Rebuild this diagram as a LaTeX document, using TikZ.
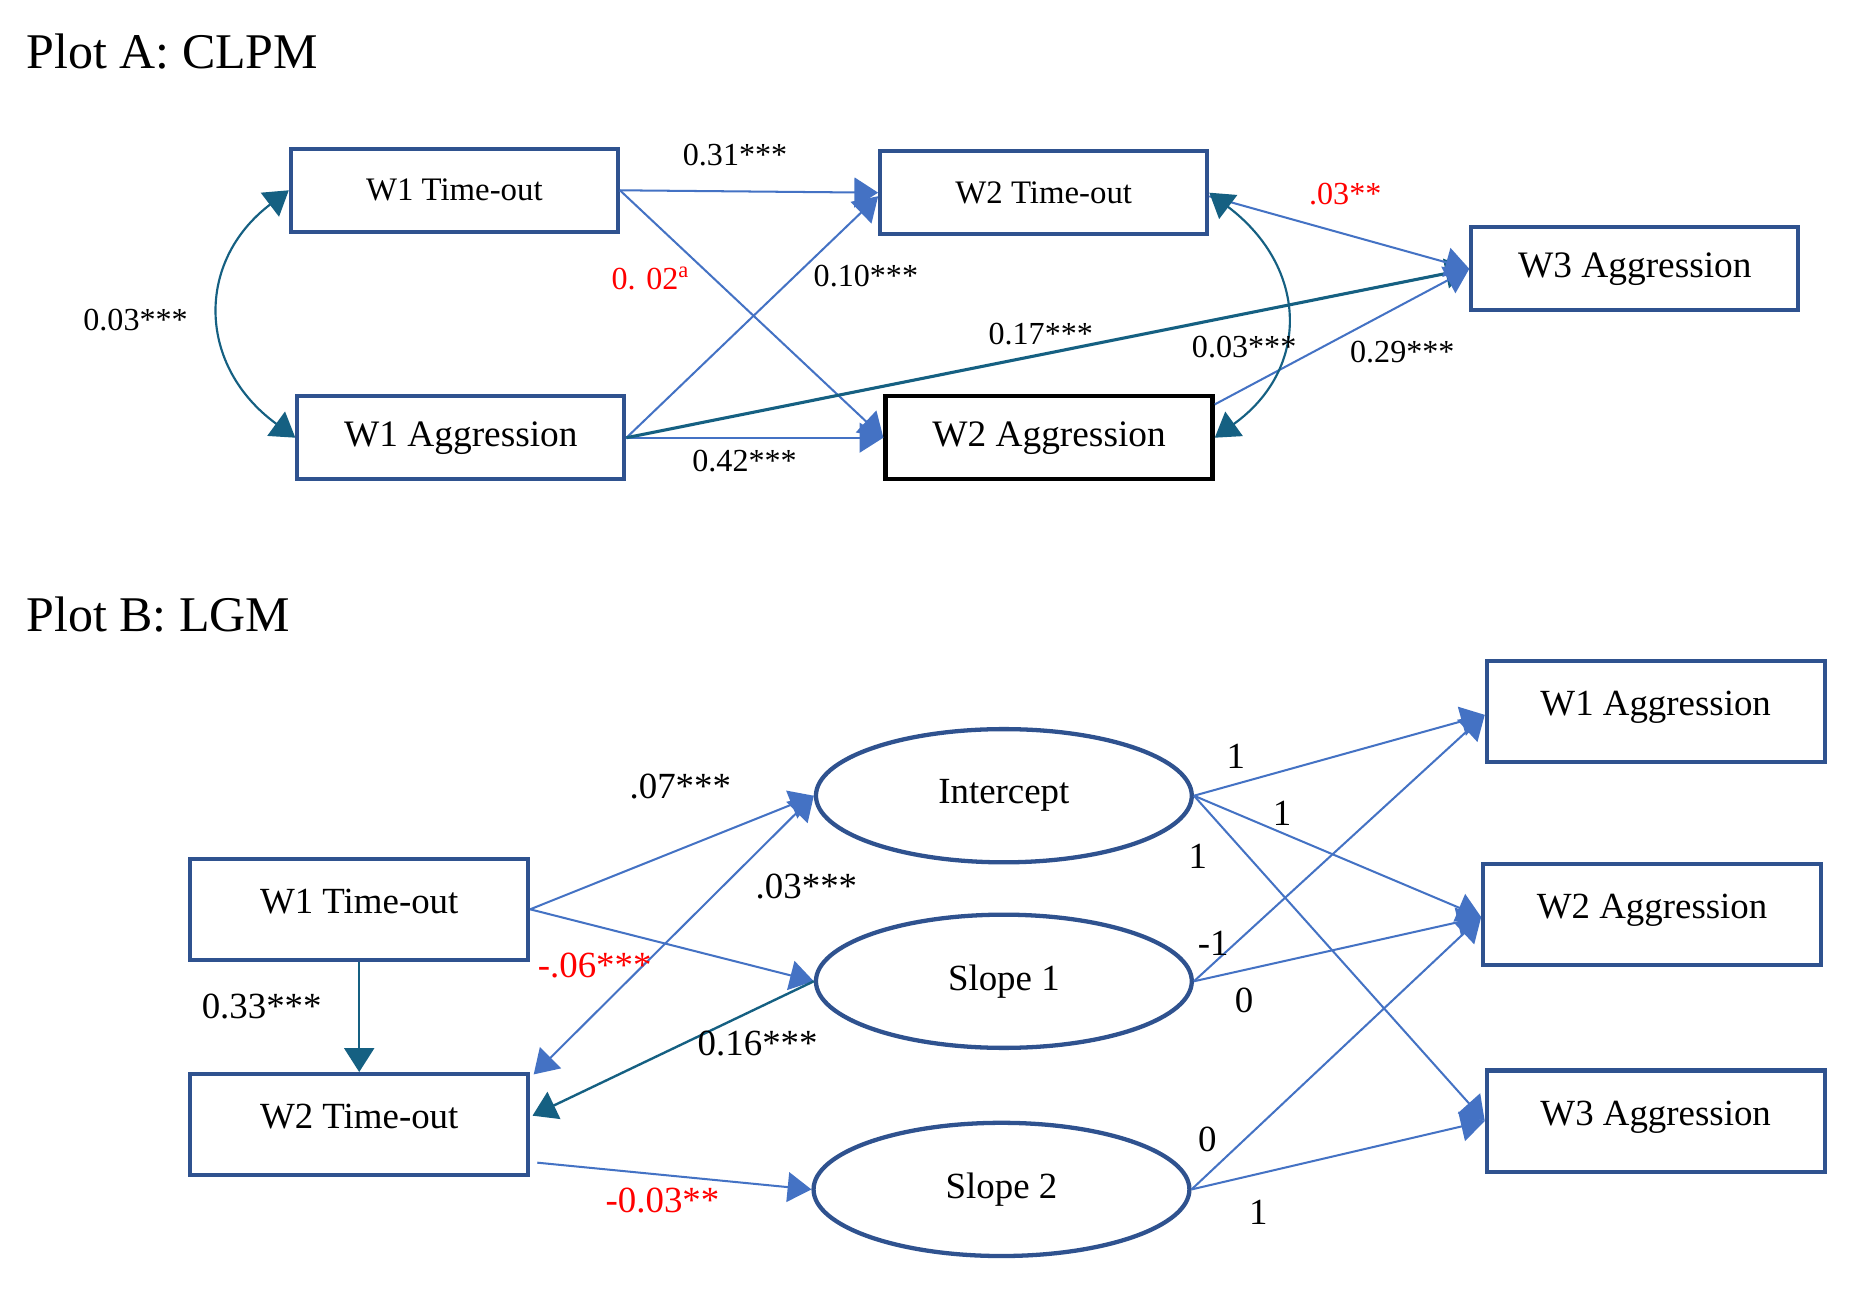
\documentclass[tikz,border=0pt]{standalone}
\usepackage{fontspec}
\setmainfont{Liberation Serif}
\usetikzlibrary{arrows.meta,shapes.geometric}
\definecolor{boxblue}{HTML}{2F528F}
\definecolor{arrblue}{HTML}{4472C4}
\definecolor{darkteal}{HTML}{156082}
\definecolor{lblred}{HTML}{FF0000}
\tikzset{
  tip/.tip={Triangle[length=10pt,width=12.5pt]},
  fTitle/.style={font=\fontsize{21}{24}\selectfont},
  fAsmall/.style={font=\fontsize{13.8}{16}\selectfont},
  fAbig/.style={font=\fontsize{15.7}{18}\selectfont},
  fAlbl/.style={font=\fontsize{13.5}{16}\selectfont, inner sep=0pt},
  fB/.style={font=\fontsize{15.5}{18}\selectfont},
  fBlbl/.style={font=\fontsize{15.5}{18}\selectfont, inner sep=0pt},
  boxA/.style={draw=boxblue, line width=1.7pt, minimum width=137.5pt, minimum height=35pt, inner sep=0pt},
  boxAblack/.style={boxA, draw=black, line width=1.8pt},
  boxB/.style={draw=boxblue, line width=1.7pt, minimum width=142pt, inner sep=0pt, text height=23pt, text depth=19.5pt, fB},
  ellB/.style={ellipse, draw=boxblue, line width=1.8pt, minimum width=158pt, minimum height=56pt, inner sep=0pt, fB},
  blarr/.style={draw=arrblue, line width=0.85pt, -{tip}},
  tlarr/.style={draw=darkteal, line width=1pt, -{tip}},
  tlarrthick/.style={draw=darkteal, line width=1.3pt, -{tip}},
  blboth/.style={draw=arrblue, line width=0.85pt, {tip}-{tip}},
  tlboth/.style={draw=darkteal, line width=0.9pt, {tip}-{tip}},
  redlbl/.style={text=lblred},
}
\begin{document}
\begin{tikzpicture}[x=0.5pt,y=-0.5pt]
\useasboundingbox[fill=white] (0,0) rectangle (1568,1091);

% ---------- Plot A ----------
\node[fTitle, anchor=base west, inner sep=0pt] (titleA) at (22,58) {Plot A: CLPM};

\node[boxA, fAsmall] (A1) at (382,160) {W1 Time-out};
\node[boxA, fAbig] (A2) at (387.5,368) {W1 Aggression};
\node[boxA, fAsmall] (A3) at (877.5,162) {W2 Time-out};
\node[boxAblack, fAbig] (A4) at (882,368) {W2 Aggression};
\node[boxA, fAbig] (A5) at (1374.5,226) {W3 Aggression};

\draw[blarr] (A1.east) -- (A3.west);
\draw[blarr] (A1.east) -- (A4.west);
\draw[blarr] (A2.east) -- ([yshift=-1.5pt]A3.west);
\draw[blarr] (A2.east) -- (A4.west);
\draw[tlarrthick] (A2.east) -- (A5.west);
\draw[blarr] ([yshift=-1.5pt]A3.east) -- (A5.west);
\draw[blarr] ([yshift=14pt]A4.east) -- (A5.west);
\draw[tlboth] (A1.west) .. controls (164,220) and (166,308) .. (A2.west);
\draw[tlboth] (A3.east) .. controls (1100,225) and (1102,310) .. (A4.east);

\node[fAlbl] (la1) at (618,130) {0.31***};
\node[fAlbl, redlbl] (la2) at (547,234) {0. 02\textsuperscript{a}};
\node[fAlbl] (la3) at (728,232) {0.10***};
\node[fAlbl] (la4) at (114,269) {0.03***};
\node[fAlbl] (la5) at (875,281) {0.17***};
\node[fAlbl] (la6) at (1046,292) {0.03***};
\node[fAlbl, redlbl] (la7) at (1131,163) {.03**};
\node[fAlbl] (la8) at (1179,296) {0.29***};
\node[fAlbl] (la9) at (626,388) {0.42***};

% ---------- Plot B ----------
\node[fTitle, anchor=base west, inner sep=0pt] (titleB) at (22,531) {Plot B: LGM};

\node[boxB] (B1) at (302,764.5) {W1 Time-out};
\node[boxB] (B2) at (302,945.5) {W2 Time-out};
\node[ellB] (B3) at (844,669) {Intercept};
\node[ellB] (B4) at (844,825) {Slope 1};
\node[ellB] (B5) at (842,1000) {Slope 2};
\node[boxB] (B6) at (1392,598) {W1 Aggression};
\node[boxB] (B7) at (1389,769) {W2 Aggression};
\node[boxB] (B8) at (1392,942.5) {W3 Aggression};

\draw[blarr] (B1.east) -- (B3.west);
\draw[blarr] (B1.east) -- (B4.west);
\draw[blboth] (B3.west) -- ([xshift=1.5pt,yshift=-1pt]B2.north east);
\draw[tlarr] (B4.west) -- ([xshift=1pt,yshift=3.75pt]B2.east);
\draw[tlarr] (B1.south) -- (B2.north);
\draw[blarr] ([xshift=3pt,yshift=-16pt]B2.east) -- (B5.west);

\draw[blarr] (B3.east) -- ([yshift=-1.5pt]B6.west);
\draw[blarr] (B3.east) -- ([yshift=-1pt]B7.west);
\draw[blarr] (B3.east) -- (B8.west);
\draw[blarr] (B4.east) -- ([yshift=-1.5pt]B6.west);
\draw[blarr] (B4.east) -- ([yshift=-1pt]B7.west);
\draw[blarr] (B5.east) -- ([yshift=-1pt]B7.west);
\draw[blarr] (B5.east) -- (B8.west);

\node[fBlbl] (lb1) at (572,661) {.07***};
\node[fBlbl] (lb2) at (678,745) {.03***};
\node[fBlbl, redlbl] (lb3) at (500,812) {-.06***};
\node[fBlbl] (lb4) at (220,846) {0.33***};
\node[fBlbl] (lb5) at (637,877) {0.16***};
\node[fBlbl, redlbl] (lb6) at (557,1009) {-0.03**};
\node[fBlbl] (lb7) at (1039,636) {1};
\node[fBlbl] (lb8) at (1078,684) {1};
\node[fBlbl] (lb9) at (1007,720) {1};
\node[fBlbl] (lb10) at (1020,793) {-1};
\node[fBlbl] (lb11) at (1046,841) {0};
\node[fBlbl] (lb12) at (1015,958) {0};
\node[fBlbl] (lb13) at (1058,1019) {1};
\end{tikzpicture}
\end{document}
